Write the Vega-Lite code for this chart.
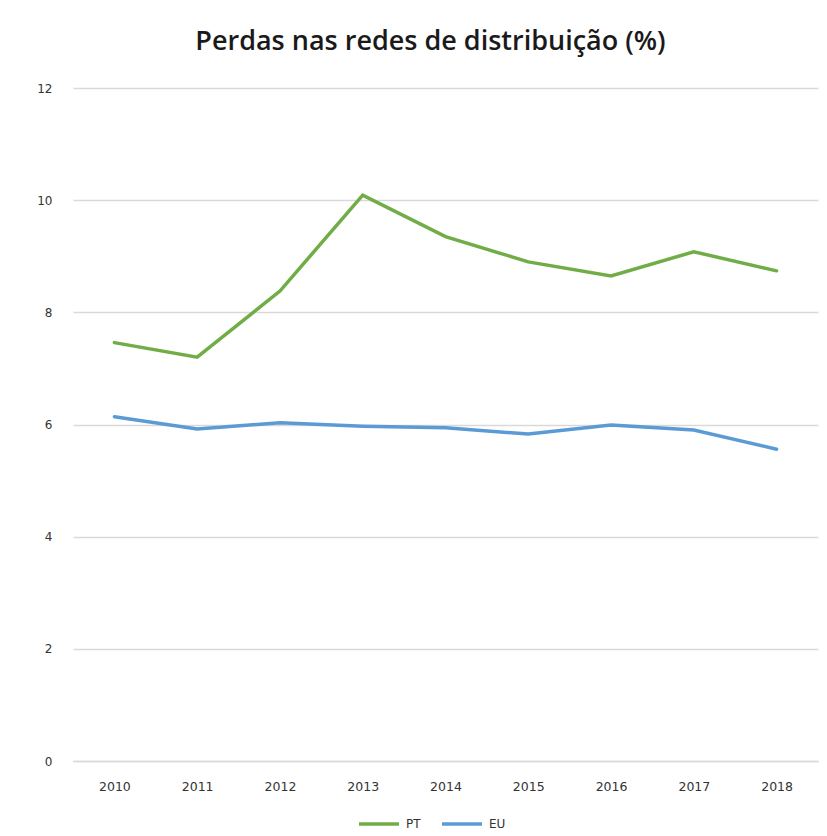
{
  "$schema": "https://vega.github.io/schema/vega-lite/v6.json",
  "autosize": "none",
  "width": 745,
  "height": 673,
  "padding": {"left": 73, "top": 88, "right": 9, "bottom": 75},
  "background": "white",
  "title": {
    "text": "Perdas nas redes de distribuição (%)",
    "font": "Open Sans",
    "fontSize": 27,
    "fontWeight": 600,
    "color": "#1a1a1a",
    "anchor": "middle",
    "dx": -15,
    "offset": 26
  },
  "data": {
    "values": [
      {"ano": "2010", "serie": "PT", "valor": 7.46},
      {"ano": "2011", "serie": "PT", "valor": 7.20},
      {"ano": "2012", "serie": "PT", "valor": 8.38},
      {"ano": "2013", "serie": "PT", "valor": 10.09},
      {"ano": "2014", "serie": "PT", "valor": 9.35},
      {"ano": "2015", "serie": "PT", "valor": 8.90},
      {"ano": "2016", "serie": "PT", "valor": 8.65},
      {"ano": "2017", "serie": "PT", "valor": 9.08},
      {"ano": "2018", "serie": "PT", "valor": 8.74},
      {"ano": "2010", "serie": "EU", "valor": 6.14},
      {"ano": "2011", "serie": "EU", "valor": 5.92},
      {"ano": "2012", "serie": "EU", "valor": 6.03},
      {"ano": "2013", "serie": "EU", "valor": 5.97},
      {"ano": "2014", "serie": "EU", "valor": 5.94},
      {"ano": "2015", "serie": "EU", "valor": 5.83},
      {"ano": "2016", "serie": "EU", "valor": 5.99},
      {"ano": "2017", "serie": "EU", "valor": 5.90},
      {"ano": "2018", "serie": "EU", "valor": 5.56}
    ]
  },
  "mark": {"type": "line", "strokeWidth": 3.5, "strokeCap": "round", "strokeJoin": "miter"},
  "encoding": {
    "x": {
      "field": "ano",
      "type": "ordinal",
      "scale": {"type": "point", "padding": 0.5},
      "axis": {
        "title": null,
        "labelAngle": 0,
        "labelFont": "DejaVu Sans",
        "labelFontSize": 12.5,
        "labelColor": "#333333",
        "labelPadding": 19,
        "ticks": false,
        "domain": true,
        "domainColor": "#d9d9d9",
        "domainWidth": 1.5,
        "grid": false
      }
    },
    "y": {
      "field": "valor",
      "type": "quantitative",
      "scale": {"domain": [0, 12]},
      "axis": {
        "title": null,
        "values": [0, 2, 4, 6, 8, 10, 12],
        "labelFont": "DejaVu Sans",
        "labelFontSize": 12,
        "labelColor": "#333333",
        "labelPadding": 21,
        "ticks": false,
        "domain": false,
        "grid": true,
        "gridColor": "#d9d9d9",
        "gridWidth": 1.5
      }
    },
    "color": {
      "field": "serie",
      "type": "nominal",
      "scale": {"domain": ["PT", "EU"], "range": ["#70ad47", "#5b9bd5"]},
      "legend": {
        "title": null,
        "orient": "none",
        "legendX": 284,
        "legendY": 714,
        "direction": "horizontal",
        "symbolType": "stroke",
        "symbolStrokeWidth": 3.5,
        "symbolSize": 1600,
        "labelFont": "DejaVu Sans",
        "labelFontSize": 12,
        "labelColor": "#333333",
        "labelOffset": 5,
        "columnPadding": 14
      }
    }
  },
  "config": {"view": {"stroke": null}}
}
